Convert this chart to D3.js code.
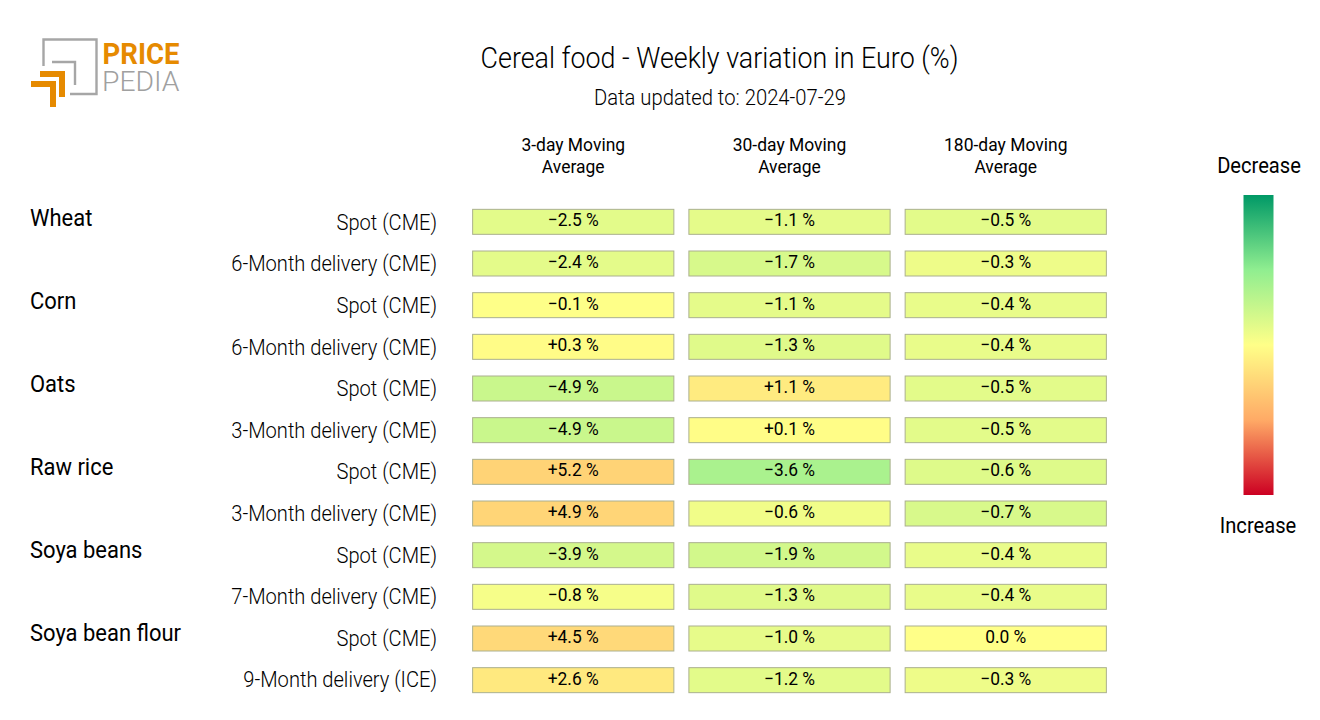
<!DOCTYPE html>
<html>
<head>
<meta charset="utf-8">
<script src="https://cdn.jsdelivr.net/npm/d3@7"></script>
<style>
  body { margin: 0; background: #fff; }
  text { font-family: Roboto, sans-serif; fill: #000; }
</style>
</head>
<body>
<div id="chart"></div>
<script>
const groups = ['Wheat', 'Corn', 'Oats', 'Raw rice', 'Soya beans', 'Soya bean flour'];
const rowLabels = [
  'Spot (CME)', '6-Month delivery (CME)',
  'Spot (CME)', '6-Month delivery (CME)',
  'Spot (CME)', '3-Month delivery (CME)',
  'Spot (CME)', '3-Month delivery (CME)',
  'Spot (CME)', '7-Month delivery (CME)',
  'Spot (CME)', '9-Month delivery (ICE)'
];
const columns = [['3-day Moving', 'Average'], ['30-day Moving', 'Average'], ['180-day Moving', 'Average']];
const ma3 = [-2.5, -2.4, -0.1, 0.3, -4.9, -4.9, 5.2, 4.9, -3.9, -0.8, 4.5, 2.6];
const ma30 = [-1.1, -1.7, -1.1, -1.3, 1.1, 0.1, -3.6, -0.6, -1.9, -1.3, -1.0, -1.2];
const ma180 = [-0.5, -0.3, -0.4, -0.4, -0.5, -0.5, -0.6, -0.7, -0.4, -0.4, 0.0, -0.3];
// every column has its own colour range, the light stops sit at +/- this value
const columnSpans = [10, 4.7, 2];
const colorRange = ['#009966', '#90ee90', '#ffff88', '#ffaa66', '#cc0022'];

const svg = d3.select('#chart').append('svg').attr('width', 1320).attr('height', 720);

const narrow = (sel, x, y, k) => sel.attr('transform', `translate(${x},${y}) scale(${k},1)`);

// title
svg.append('text').call(narrow, 719.5, 68, 0.926).attr('text-anchor', 'middle').attr('font-size', 29).attr('font-weight', 300).text('Cereal food - Weekly variation in Euro (%)');
svg.append('text').call(narrow, 720, 105, 0.92).attr('text-anchor', 'middle').attr('font-size', 22).attr('font-weight', 300).text('Data updated to: 2024-07-29');

// logo
const logo = svg.append('g');
logo.append('path').attr('d', 'M43.5 66 V39.5 H96.5 V94 H70').attr('fill', 'none').attr('stroke', '#a6a6a6').attr('stroke-width', 2.4);
logo.append('path').attr('d', 'M52 62 H75 V85').attr('fill', 'none').attr('stroke', '#a6a6a6').attr('stroke-width', 2.4);
logo.append('path').attr('d', 'M40 74 H62 V97').attr('fill', 'none').attr('stroke', '#e68a00').attr('stroke-width', 6);
logo.append('path').attr('d', 'M31 84 H53 V107').attr('fill', 'none').attr('stroke', '#e68a00').attr('stroke-width', 6);
logo.append('text').call(narrow, 102.5, 64, 0.95).attr('font-size', 29).attr('font-weight', 700).style('fill', '#e68a00').text('PRICE');
logo.append('text').call(narrow, 102, 91, 1.01).attr('font-size', 28).attr('font-weight', 300).style('fill', '#a0a0a0').text('PEDIA');

// table
const x = d3.scaleBand().domain(d3.range(3)).range([465.5, 1113.5]).paddingInner(0.0695).paddingOuter(0.033);
const y = d3.scaleBand().domain(d3.range(12)).range([201, 701]).paddingInner(0.4).paddingOuter(0.2);
const groupY = d3.scalePoint().domain(groups).range([226, 641]);
const formatValue = v => (v > 0 ? '+' + v.toFixed(1) : v < 0 ? '\u2212' + Math.abs(v).toFixed(1) : v.toFixed(1)) + ' %';

columns.forEach((lines, c) => {
  lines.forEach((line, i) => {
    svg.append('text').call(narrow, x(c) + x.bandwidth() / 2, 151 + i * 21.5, 0.92)
      .attr('text-anchor', 'middle').attr('font-size', 19).text(line);
  });
});

svg.selectAll('.group').data(groups).enter().append('text')
  .attr('class', 'group')
  .each(function (d) { d3.select(this).call(narrow, 30, groupY(d), 0.955); })
  .attr('font-size', 23).attr('font-weight', 400).text(d => d);

svg.selectAll('.row').data(rowLabels).enter().append('text')
  .attr('class', 'row')
  .each(function (d, i) { d3.select(this).call(narrow, 437, y(i) + y.bandwidth() / 2 + 8 - i * 0.07, 0.935); })
  .attr('text-anchor', 'end').attr('font-size', 21.5).attr('font-weight', 300).text(d => d);

[ma3, ma30, ma180].forEach((values, c) => {
  const span = columnSpans[c];
  const color = d3.scaleLinear().domain([-2 * span, -span, 0, span, 2 * span]).range(colorRange);
  const cells = svg.append('g').selectAll('g').data(values).enter().append('g');
  cells.append('rect')
    .attr('x', x(c)).attr('y', (d, i) => y(i))
    .attr('width', x.bandwidth()).attr('height', y.bandwidth())
    .attr('fill', d => color(d)).attr('stroke', '#abb08f').attr('stroke-width', 1);
  cells.append('text')
    .each(function (d, i) { d3.select(this).call(narrow, x(c) + x.bandwidth() / 2, y(i) + y.bandwidth() / 2 + 4.5, 0.94); })
    .attr('text-anchor', 'middle').attr('font-size', 18.5).text(d => formatValue(d));
});

// legend
const grad = svg.append('defs').append('linearGradient').attr('id', 'legendGrad').attr('x1', 0).attr('x2', 0).attr('y1', 0).attr('y2', 1);
colorRange.forEach((s, i) => grad.append('stop').attr('offset', i / 4).attr('stop-color', s));
svg.append('rect').attr('x', 1243.5).attr('y', 195).attr('width', 30).attr('height', 300).attr('fill', 'url(#legendGrad)');
svg.append('text').call(narrow, 1259, 173, 0.915).attr('text-anchor', 'middle').attr('font-size', 22).text('Decrease');
svg.append('text').call(narrow, 1258, 533, 0.915).attr('text-anchor', 'middle').attr('font-size', 22).text('Increase');
</script>
</body>
</html>
